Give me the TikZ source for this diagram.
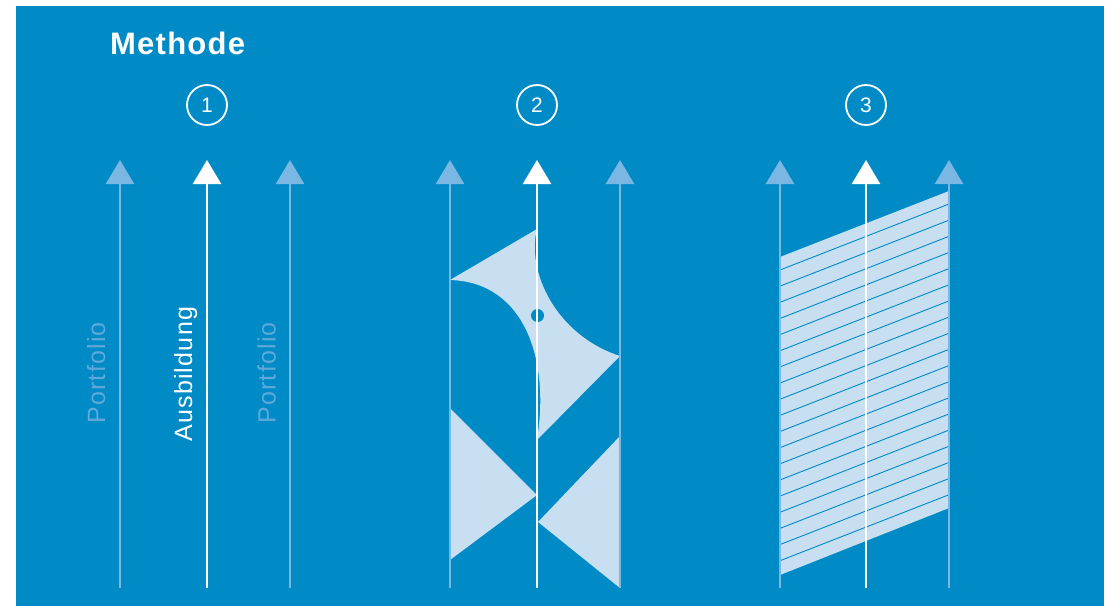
\documentclass[tikz,border=0pt]{standalone}
\usepackage{fontspec}
\setmainfont{Liberation Sans}
\usetikzlibrary{arrows.meta,positioning}
\definecolor{bgblue}{RGB}{0,139,199}
\definecolor{paleblue}{RGB}{122,183,226}
\definecolor{fillblue}{RGB}{199,223,240}
\definecolor{labelblue}{RGB}{96,168,218}

\begin{document}
\begin{tikzpicture}[
    x=1pt, y=-1pt,
    axis/.style={line width=2.5pt, -{Triangle[width=28pt,length=24pt]}},
    mainaxis/.style={axis, white},
    sideaxis/.style={axis, paleblue},
    num/.style={draw=white, line width=1.8pt, circle, minimum size=40pt,
    inner sep=0pt, text=white, font=\fontsize{21}{21}\selectfont},
    axlabel/.style={rotate=90, anchor=base west, inner sep=0pt,
    font=\fontsize{25}{25}\selectfont\addfontfeatures{LetterSpace=5}},
    wedge/.style={fill=fillblue},
    hatch/.style={draw=bgblue, line width=0.9pt}
]
\fill[white] (0,0) rectangle (1119,606);
\fill[bgblue] (16,6) rectangle (1104,606);
\useasboundingbox (0,0) rectangle (1119,606);

\node[anchor=base west, inner sep=0pt, text=white,
  font=\fontsize{31}{31}\selectfont\bfseries\addfontfeatures{LetterSpace=4}]
  (title) at (110,54) {Methode};

% method 2: wedges between the axes
\fill[wedge] (450,280) -- (537,229) .. controls (526,270) and (555,335) .. (620,356)
  -- (537,440) .. controls (550,360) and (525,282) .. (450,280) -- cycle;
\fill[bgblue] (537.5,315.5) circle[radius=6.5pt];
\fill[wedge] (450,408) -- (537,495) -- (450,560) -- cycle;
\fill[wedge] (620,436) -- (538,522) -- (620,588) -- cycle;

% method 3: hatched band
\fill[wedge] (780,257) -- (949,191) -- (949,508) -- (780,575) -- cycle;
\foreach \k in {0,...,18}
  \draw[hatch] (780,{270+16.15*\k}) -- (949,{204+16.15*\k});

% axes
\foreach \n/\x/\sty in {l1/120/sideaxis, m1/207/mainaxis, r1/290/sideaxis,
    l2/450/sideaxis, m2/537/mainaxis, r2/620/sideaxis,
    l3/780/sideaxis, m3/866/mainaxis, r3/949/sideaxis}{
  \coordinate (\n-foot) at (\x,588);
  \coordinate (\n-tip) at (\x,160);
  \draw[\sty] (\n-foot) -- (\n-tip);
}

\node[axlabel, text=labelblue] (port1) at (105,424) {Portfolio};
\node[axlabel, text=white] (ausb) at (192,442) {Ausbildung};
\node[axlabel, text=labelblue] (port2) at (275.5,424) {Portfolio};

\node[num] (n1) at (207,105) {1};
\node[num] (n2) at (537,105) {2};
\node[num] (n3) at (866,105) {3};
\end{tikzpicture}
\end{document}
